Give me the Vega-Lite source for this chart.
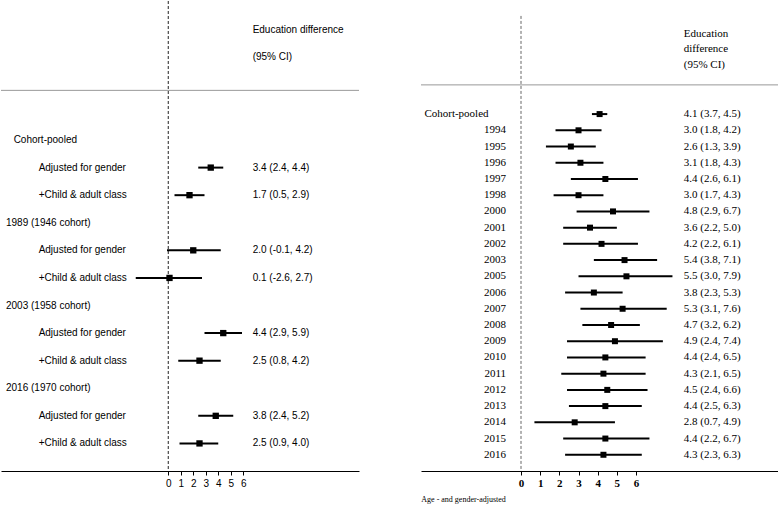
{
  "$schema": "https://vega.github.io/schema/vega-lite/v6.json",
  "padding": 0,
  "spacing": 60,
  "background": "white",
  "config": {"view": {"stroke": null}},
  "datasets": {
    "left": [
      {"row": 0, "kind": "pooled", "label": "Cohort-pooled"},
      {"row": 1, "kind": "item", "label": "Adjusted for gender", "est": 3.4, "lo": 2.4, "hi": 4.4, "ci": "3.4 (2.4, 4.4)"},
      {"row": 2, "kind": "item", "label": "+Child & adult class", "est": 1.7, "lo": 0.5, "hi": 2.9, "ci": "1.7 (0.5, 2.9)"},
      {"row": 3, "kind": "cohort", "label": "1989 (1946 cohort)"},
      {"row": 4, "kind": "item", "label": "Adjusted for gender", "est": 2.0, "lo": -0.1, "hi": 4.2, "ci": "2.0 (-0.1, 4.2)"},
      {"row": 5, "kind": "item", "label": "+Child & adult class", "est": 0.1, "lo": -2.6, "hi": 2.7, "ci": "0.1 (-2.6, 2.7)"},
      {"row": 6, "kind": "cohort", "label": "2003 (1958 cohort)"},
      {"row": 7, "kind": "item", "label": "Adjusted for gender", "est": 4.4, "lo": 2.9, "hi": 5.9, "ci": "4.4 (2.9, 5.9)"},
      {"row": 8, "kind": "item", "label": "+Child & adult class", "est": 2.5, "lo": 0.8, "hi": 4.2, "ci": "2.5 (0.8, 4.2)"},
      {"row": 9, "kind": "cohort", "label": "2016 (1970 cohort)"},
      {"row": 10, "kind": "item", "label": "Adjusted for gender", "est": 3.8, "lo": 2.4, "hi": 5.2, "ci": "3.8 (2.4, 5.2)"},
      {"row": 11, "kind": "item", "label": "+Child & adult class", "est": 2.5, "lo": 0.9, "hi": 4.0, "ci": "2.5 (0.9, 4.0)"}
    ],
    "right": [
      {"row": 0, "kind": "pooled", "label": "Cohort-pooled", "est": 4.1, "lo": 3.7, "hi": 4.5, "ci": "4.1 (3.7, 4.5)"},
      {"row": 1, "kind": "year", "label": "1994", "est": 3.0, "lo": 1.8, "hi": 4.2, "ci": "3.0 (1.8, 4.2)"},
      {"row": 2, "kind": "year", "label": "1995", "est": 2.6, "lo": 1.3, "hi": 3.9, "ci": "2.6 (1.3, 3.9)"},
      {"row": 3, "kind": "year", "label": "1996", "est": 3.1, "lo": 1.8, "hi": 4.3, "ci": "3.1 (1.8, 4.3)"},
      {"row": 4, "kind": "year", "label": "1997", "est": 4.4, "lo": 2.6, "hi": 6.1, "ci": "4.4 (2.6, 6.1)"},
      {"row": 5, "kind": "year", "label": "1998", "est": 3.0, "lo": 1.7, "hi": 4.3, "ci": "3.0 (1.7, 4.3)"},
      {"row": 6, "kind": "year", "label": "2000", "est": 4.8, "lo": 2.9, "hi": 6.7, "ci": "4.8 (2.9, 6.7)"},
      {"row": 7, "kind": "year", "label": "2001", "est": 3.6, "lo": 2.2, "hi": 5.0, "ci": "3.6 (2.2, 5.0)"},
      {"row": 8, "kind": "year", "label": "2002", "est": 4.2, "lo": 2.2, "hi": 6.1, "ci": "4.2 (2.2, 6.1)"},
      {"row": 9, "kind": "year", "label": "2003", "est": 5.4, "lo": 3.8, "hi": 7.1, "ci": "5.4 (3.8, 7.1)"},
      {"row": 10, "kind": "year", "label": "2005", "est": 5.5, "lo": 3.0, "hi": 7.9, "ci": "5.5 (3.0, 7.9)"},
      {"row": 11, "kind": "year", "label": "2006", "est": 3.8, "lo": 2.3, "hi": 5.3, "ci": "3.8 (2.3, 5.3)"},
      {"row": 12, "kind": "year", "label": "2007", "est": 5.3, "lo": 3.1, "hi": 7.6, "ci": "5.3 (3.1, 7.6)"},
      {"row": 13, "kind": "year", "label": "2008", "est": 4.7, "lo": 3.2, "hi": 6.2, "ci": "4.7 (3.2, 6.2)"},
      {"row": 14, "kind": "year", "label": "2009", "est": 4.9, "lo": 2.4, "hi": 7.4, "ci": "4.9 (2.4, 7.4)"},
      {"row": 15, "kind": "year", "label": "2010", "est": 4.4, "lo": 2.4, "hi": 6.5, "ci": "4.4 (2.4, 6.5)"},
      {"row": 16, "kind": "year", "label": "2011", "est": 4.3, "lo": 2.1, "hi": 6.5, "ci": "4.3 (2.1, 6.5)"},
      {"row": 17, "kind": "year", "label": "2012", "est": 4.5, "lo": 2.4, "hi": 6.6, "ci": "4.5 (2.4, 6.6)"},
      {"row": 18, "kind": "year", "label": "2013", "est": 4.4, "lo": 2.5, "hi": 6.3, "ci": "4.4 (2.5, 6.3)"},
      {"row": 19, "kind": "year", "label": "2014", "est": 2.8, "lo": 0.7, "hi": 4.9, "ci": "2.8 (0.7, 4.9)"},
      {"row": 20, "kind": "year", "label": "2015", "est": 4.4, "lo": 2.2, "hi": 6.7, "ci": "4.4 (2.2, 6.7)"},
      {"row": 21, "kind": "year", "label": "2016", "est": 4.3, "lo": 2.3, "hi": 6.3, "ci": "4.3 (2.3, 6.3)"}
    ]
  },
  "hconcat": [
    {
      "width": 358,
      "height": 470,
      "data": {"name": "left"},
      "layer": [
        {
          "data": {"values": [{}]},
          "mark": {"type": "rule", "strokeDash": [3, 2], "color": "#222", "strokeWidth": 1},
          "encoding": {
            "x": {"datum": 0, "type": "quantitative",
              "scale": {"domain": [-13.38, 15.26], "nice": false, "zero": false},
              "axis": {"values": [0, 1, 2, 3, 4, 5, 6], "title": null, "grid": false, "domainColor": "#000", "tickColor": "#000", "tickSize": 4, "labelFont": "Liberation Sans", "labelFontSize": 10, "labelColor": "#000", "labelPadding": 3, "labelFlush": false}}
          }
        },
        {
          "data": {"values": [{}]},
          "mark": {"type": "rule", "color": "#999", "strokeWidth": 1},
          "encoding": {
            "y": {"datum": -1.8, "type": "quantitative",
              "scale": {"domain": [-5.04, 12], "reverse": true, "nice": false, "zero": false},
              "axis": null}
          }
        },
        {
          "transform": [{"filter": "datum.lo != null"}],
          "mark": {"type": "rule", "strokeWidth": 2, "color": "#000"},
          "encoding": {
            "x": {"field": "lo", "type": "quantitative", "title": null},
            "x2": {"field": "hi"},
            "y": {"field": "row", "type": "quantitative", "title": null}
          }
        },
        {
          "transform": [{"filter": "datum.est != null"}],
          "mark": {"type": "point", "shape": "square", "filled": true, "color": "#000", "opacity": 1, "size": 40},
          "encoding": {
            "x": {"field": "est", "type": "quantitative", "title": null},
            "y": {"field": "row", "type": "quantitative", "title": null}
          }
        },
        {
          "transform": [{"filter": "datum.kind == 'pooled'"}],
          "mark": {"type": "text", "align": "left", "baseline": "middle", "font": "Liberation Sans", "fontSize": 10, "color": "#000"},
          "encoding": {
            "x": {"datum": -12.37, "type": "quantitative"},
            "y": {"field": "row", "type": "quantitative", "title": null},
            "text": {"field": "label"}
          }
        },
        {
          "transform": [{"filter": "datum.kind == 'cohort'"}],
          "mark": {"type": "text", "align": "left", "baseline": "middle", "font": "Liberation Sans", "fontSize": 10, "color": "#000"},
          "encoding": {
            "x": {"datum": -12.98, "type": "quantitative"},
            "y": {"field": "row", "type": "quantitative", "title": null},
            "text": {"field": "label"}
          }
        },
        {
          "transform": [{"filter": "datum.kind == 'item'"}],
          "mark": {"type": "text", "align": "left", "baseline": "middle", "font": "Liberation Sans", "fontSize": 10, "color": "#000"},
          "encoding": {
            "x": {"datum": -10.37, "type": "quantitative"},
            "y": {"field": "row", "type": "quantitative", "title": null},
            "text": {"field": "label"}
          }
        },
        {
          "transform": [{"filter": "datum.ci != null"}],
          "mark": {"type": "text", "align": "left", "baseline": "middle", "font": "Liberation Sans", "fontSize": 10, "color": "#000"},
          "encoding": {
            "x": {"datum": 6.75, "type": "quantitative"},
            "y": {"field": "row", "type": "quantitative", "title": null},
            "text": {"field": "ci"}
          }
        },
        {
          "data": {"values": [{"t": "Education difference", "r": -4}, {"t": "(95% CI)", "r": -3}]},
          "mark": {"type": "text", "align": "left", "baseline": "middle", "font": "Liberation Sans", "fontSize": 10, "color": "#000"},
          "encoding": {
            "x": {"datum": 6.75, "type": "quantitative"},
            "y": {"field": "r", "type": "quantitative", "title": null},
            "text": {"field": "t"}
          }
        }
      ]
    },
    {
      "width": 358,
      "height": 470,
      "data": {"name": "right"},
      "layer": [
        {
          "data": {"values": [{}]},
          "mark": {"type": "rule", "strokeDash": [3, 2], "color": "#666", "strokeWidth": 1},
          "encoding": {
            "x": {"datum": 0, "type": "quantitative",
              "scale": {"domain": [-5.217, 13.458], "nice": false, "zero": false},
              "axis": {"values": [0, 1, 2, 3, 4, 5, 6], "title": null, "grid": false, "domainColor": "#000", "tickColor": "#000", "tickSize": 4, "labelFont": "Liberation Serif", "labelFontWeight": "bold", "labelFontSize": 11, "labelColor": "#000", "labelPadding": 2, "labelFlush": false}},
            "y": {"datum": -6.05, "type": "quantitative",
              "scale": {"domain": [-6.97, 22], "reverse": true, "nice": false, "zero": false},
              "axis": null},
            "y2": {"datum": 22}
          }
        },
        {
          "data": {"values": [{}]},
          "mark": {"type": "rule", "color": "#999", "strokeWidth": 1},
          "encoding": {
            "y": {"datum": -1.8, "type": "quantitative"}
          }
        },
        {
          "mark": {"type": "rule", "strokeWidth": 2, "color": "#000"},
          "encoding": {
            "x": {"field": "lo", "type": "quantitative", "title": null},
            "x2": {"field": "hi"},
            "y": {"field": "row", "type": "quantitative", "title": null}
          }
        },
        {
          "mark": {"type": "point", "shape": "square", "filled": true, "color": "#000", "opacity": 1, "size": 36},
          "encoding": {
            "x": {"field": "est", "type": "quantitative", "title": null},
            "y": {"field": "row", "type": "quantitative", "title": null}
          }
        },
        {
          "transform": [{"filter": "datum.kind == 'pooled'"}],
          "mark": {"type": "text", "align": "left", "baseline": "middle", "font": "Liberation Serif", "fontSize": 11, "color": "#000"},
          "encoding": {
            "x": {"datum": -5.04, "type": "quantitative"},
            "y": {"field": "row", "type": "quantitative", "title": null},
            "text": {"field": "label"}
          }
        },
        {
          "transform": [{"filter": "datum.kind == 'year'"}],
          "mark": {"type": "text", "align": "right", "baseline": "middle", "font": "Liberation Serif", "fontSize": 11, "color": "#000"},
          "encoding": {
            "x": {"datum": -0.78, "type": "quantitative"},
            "y": {"field": "row", "type": "quantitative", "title": null},
            "text": {"field": "label"}
          }
        },
        {
          "mark": {"type": "text", "align": "left", "baseline": "middle", "font": "Liberation Serif", "fontSize": 11, "color": "#000"},
          "encoding": {
            "x": {"datum": 8.49, "type": "quantitative"},
            "y": {"field": "row", "type": "quantitative", "title": null},
            "text": {"field": "ci"}
          }
        },
        {
          "data": {"values": [{"t": "Education", "r": -4.95}, {"t": "difference", "r": -4}, {"t": "(95% CI)", "r": -3.03}]},
          "mark": {"type": "text", "align": "left", "baseline": "middle", "font": "Liberation Serif", "fontSize": 11, "color": "#000"},
          "encoding": {
            "x": {"datum": 8.49, "type": "quantitative"},
            "y": {"field": "r", "type": "quantitative", "title": null},
            "text": {"field": "t"}
          }
        },
        {
          "data": {"values": [{"t": "Age - and gender-adjusted", "r": 23.78}]},
          "mark": {"type": "text", "align": "left", "baseline": "middle", "font": "Liberation Serif", "fontSize": 8, "color": "#000"},
          "encoding": {
            "x": {"datum": -5.2, "type": "quantitative"},
            "y": {"field": "r", "type": "quantitative", "title": null},
            "text": {"field": "t"}
          }
        }
      ]
    }
  ]
}
